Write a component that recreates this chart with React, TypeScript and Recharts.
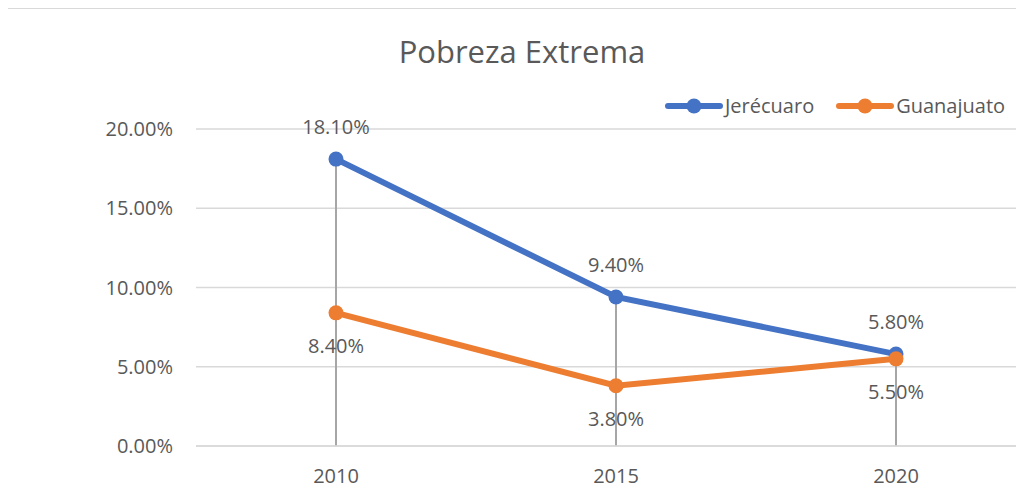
import React from 'react';
import { ComposedChart, Line, Bar, XAxis, YAxis, CartesianGrid, LabelList } from 'recharts';

const years = ['2010', '2015', '2020'];
const jerecuaro = [18.1, 9.4, 5.8];
const guanajuato = [8.4, 3.8, 5.5];
const yTicks = [0, 5, 10, 15, 20];

const data = years.map((year, i) => ({
  year,
  jerecuaro: jerecuaro[i],
  guanajuato: guanajuato[i],
  drop: Math.max(jerecuaro[i], guanajuato[i]),
}));

const series = [
  { key: 'jerecuaro', name: 'Jerécuaro', color: '#4472C4' },
  { key: 'guanajuato', name: 'Guanajuato', color: '#ED7D31' },
];

const font = '"Open Sans", sans-serif';
const textColor = '#595959';
const pct = (v: number) => `${v.toFixed(2)}%`;

const ChartLegend = () => (
  <div
    style={{
      position: 'absolute',
      top: 92,
      left: 665,
      display: 'flex',
      alignItems: 'center',
      fontFamily: font,
      fontSize: 20,
      color: textColor,
      whiteSpace: 'nowrap',
    }}
  >
    {series.map((s) => (
      <div key={s.key} style={{ display: 'flex', alignItems: 'center', marginRight: 22 }}>
        <svg width={58} height={20} style={{ marginRight: 2 }}>
          <line x1={3} y1={10} x2={55} y2={10} stroke={s.color} strokeWidth={6} strokeLinecap="round" />
          <circle cx={29} cy={10} r={7.5} fill={s.color} />
        </svg>
        <span>{s.name}</span>
      </div>
    ))}
  </div>
);

export default function App() {
  return (
    <div style={{ position: 'relative', margin: -8, width: 1024, height: 495, overflow: 'hidden', background: '#fff' }}>
      <div
        style={{
          position: 'absolute',
          left: 0,
          top: 30,
          width: 1044,
          textAlign: 'center',
          fontFamily: font,
          fontSize: 31,
          color: textColor,
        }}
      >
        Pobreza Extrema
      </div>
      <ChartLegend />
      <div style={{ position: 'absolute', left: 0, top: 0 }}>
        <ComposedChart width={1046} height={495} data={data} margin={{ top: 129, right: 10, bottom: 19, left: 0 }}>
          <CartesianGrid vertical={false} stroke="#d9d9d9" strokeWidth={1.5} />
          <XAxis
            dataKey="year"
            height={30}
            axisLine={{ stroke: '#d9d9d9', strokeWidth: 1.5 }}
            tickLine={false}
            tickSize={0}
            tickMargin={23}
            tick={{ fill: textColor, fontSize: 20, fontFamily: font }}
          />
          <YAxis
            width={196}
            domain={[0, 20]}
            ticks={yTicks}
            tickFormatter={pct}
            axisLine={false}
            tickLine={false}
            tickSize={0}
            tickMargin={23}
            tick={{ fill: textColor, fontSize: 20, fontFamily: font }}
          />
          <Line
            dataKey="jerecuaro"
            name="Jerécuaro"
            stroke="#4472C4"
            strokeWidth={6}
            dot={{ r: 7.5, fill: '#4472C4', stroke: '#4472C4', strokeWidth: 0 }}
            activeDot={false}
            isAnimationActive={false}
          >
            <LabelList
              dataKey="jerecuaro"
              position="top"
              offset={25}
              formatter={(v: any) => pct(Number(v))}
              style={{ fill: textColor, fontSize: 20, fontFamily: font }}
            />
          </Line>
          <Line
            dataKey="guanajuato"
            name="Guanajuato"
            stroke="#ED7D31"
            strokeWidth={6}
            dot={{ r: 7.5, fill: '#ED7D31', stroke: '#ED7D31', strokeWidth: 0 }}
            activeDot={false}
            isAnimationActive={false}
          >
            <LabelList
              dataKey="guanajuato"
              position="bottom"
              offset={26}
              formatter={(v: any) => pct(Number(v))}
              style={{ fill: textColor, fontSize: 20, fontFamily: font }}
            />
          </Line>
          <Bar dataKey="drop" barSize={2} fill="#a6a6a6" isAnimationActive={false} />
        </ComposedChart>
      </div>
      <div
        style={{
          position: 'absolute',
          left: 6,
          top: 7,
          width: 1100,
          height: 600,
          borderLeft: '2px solid #d9d9d9',
          borderTop: '2px solid #d9d9d9',
          pointerEvents: 'none',
        }}
      />
    </div>
  );
}
